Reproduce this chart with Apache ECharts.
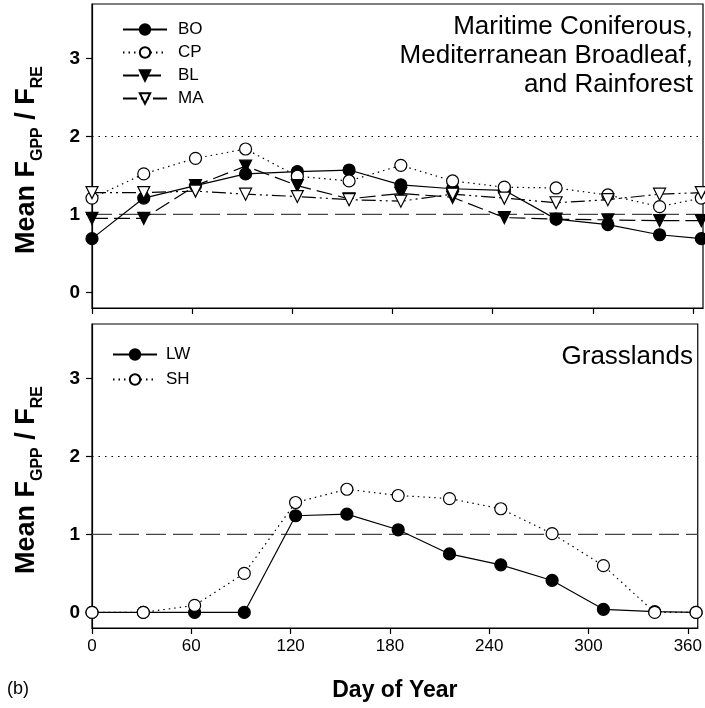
<!DOCTYPE html>
<html>
<head>
<meta charset="utf-8">
<script src="https://cdn.jsdelivr.net/npm/echarts@6/dist/echarts.min.js"></script>
<style>html,body{margin:0;padding:0;background:#fff;}#c{width:705px;height:708px;}</style>
</head>
<body>
<div id="c"></div>
<script>
// ---- data ----
const days = [0, 31, 62, 92, 123, 154, 185, 216, 247, 278, 309, 340, 365];
const BO = [0.69, 1.21, 1.37, 1.52, 1.55, 1.57, 1.38, 1.33, 1.31, 0.94, 0.87, 0.74, 0.69];
const CP = [1.21, 1.52, 1.72, 1.84, 1.49, 1.43, 1.63, 1.43, 1.35, 1.34, 1.25, 1.10, 1.21];
const BL = [0.95, 0.95, 1.37, 1.62, 1.37, 1.20, 1.27, 1.22, 0.96, 0.94, 0.93, 0.92, 0.92];
const MA = [1.28, 1.28, 1.30, 1.26, 1.23, 1.19, 1.17, 1.26, 1.21, 1.15, 1.19, 1.26, 1.28];
const LW = [0, 0, 0, 0, 1.24, 1.26, 1.06, 0.75, 0.61, 0.41, 0.04, 0.01, 0];
const SH = [0, 0, 0.09, 0.50, 1.41, 1.58, 1.50, 1.46, 1.33, 1.01, 0.60, 0, 0];
const xTicks = [0, 60, 120, 180, 240, 300, 360];
const yTicks = [0, 1, 2, 3];
const refLines = [1, 2];
const topTitleLines = ['Maritime Coniferous,', 'Mediterranean Broadleaf,', 'and Rainforest'];
const bottomTitle = 'Grasslands';

const FONT = 'Liberation Sans, Arial, Helvetica, sans-serif';
const pair = arr => days.map((d, i) => [d, arr[i]]);
const triDown = 'path://M0,0 L12,0 L6,11 Z';

const chart = echarts.init(document.getElementById('c'), null, {renderer: 'canvas'});

function xAxis(gi, showLabels) {
  return {
    type: 'value', gridIndex: gi, min: 0, max: 366,
    axisLine: {show: true, onZero: false, lineStyle: {color: '#000', width: 1.2}},
    axisTick: {show: true, length: 6, customValues: xTicks, lineStyle: {color: '#000', width: 1.2}},
    axisLabel: {show: showLabels, customValues: xTicks, color: '#000', fontSize: 17, fontFamily: FONT, margin: 10},
    splitLine: {show: false},
    name: showLabels ? 'Day of Year' : '',
    nameLocation: 'middle', nameGap: 51,
    nameTextStyle: {color: '#000', fontSize: 23, fontWeight: 'bold', fontFamily: FONT}
  };
}
function yAxis(gi) {
  return {
    type: 'value', gridIndex: gi, min: -0.2, max: 3.7,
    axisLine: {show: true, onZero: false, lineStyle: {color: '#000', width: 1.2}},
    axisTick: {show: true, length: 6, customValues: yTicks, lineStyle: {color: '#000', width: 1.2}},
    axisLabel: {customValues: yTicks, color: '#000', fontSize: 19, fontWeight: 'bold', fontFamily: FONT, margin: 12},
    splitLine: {show: false},
    name: '{a|Mean F}{b|GPP}{a| / F}{b|RE}',
    nameLocation: 'middle', nameGap: 52, nameRotate: 90,
    nameTextStyle: {
      color: '#000', fontFamily: FONT, padding: [0, 8, 0, 0],
      rich: {
        a: {fontSize: 27, fontWeight: 'bold', fontFamily: FONT, color: '#000', lineHeight: 32, verticalAlign: 'bottom'},
        b: {fontSize: 16, fontWeight: 'bold', fontFamily: FONT, color: '#000', lineHeight: 32, verticalAlign: 'bottom', padding: [0, 0, -6, 0]}
      }
    }
  };
}

function refSeries(gi, y, type, color) {
  return {
    type: 'line', xAxisIndex: gi, yAxisIndex: gi, silent: true, symbol: 'none',
    data: [[0, y], [366, y]],
    lineStyle: {color: color, width: 1.2, type: type}, z: 1
  };
}
function dataSeries(name, gi, arr, symbol, filled, dash, size) {
  return {
    name: name, type: 'line', xAxisIndex: gi, yAxisIndex: gi,
    data: pair(arr), symbol: symbol, symbolSize: size, showSymbol: true,
    lineStyle: {color: '#000', width: 1.2, type: dash},
    itemStyle: {color: filled ? '#000' : '#fff', borderColor: '#000', borderWidth: 1.2},
    emphasis: {disabled: true}, z: 3
  };
}

const titleStyle = {fontSize: 26, fontWeight: 'normal', fill: '#000', fontFamily: FONT};
const titleGraphics = topTitleLines.map((t, i) => ({
  type: 'text', right: 12, top: 14 + i * 29, style: Object.assign({text: t}, titleStyle)
}));

const option = {
  animation: false,
  backgroundColor: '#fff',
  textStyle: {fontFamily: FONT},
  grid: [
    {left: 92, right: 2, top: 4, height: 304, show: true, borderColor: '#000', borderWidth: 1.2, backgroundColor: 'transparent'},
    {left: 92, right: 2, top: 324, height: 304, show: true, borderColor: '#000', borderWidth: 1.2, backgroundColor: 'transparent'}
  ],
  xAxis: [xAxis(0, false), xAxis(1, true)],
  yAxis: [yAxis(0), yAxis(1)],
  graphic: titleGraphics.concat([
    {type: 'text', right: 12, top: 344, style: Object.assign({text: bottomTitle}, titleStyle)},
    {type: 'text', left: 7, top: 680, style: {text: '(b)', fontSize: 18, fill: '#000', fontFamily: FONT}}
  ]),
  legend: [
    {data: ['BO', 'CP', 'BL', 'MA'], orient: 'vertical', left: 122, top: 21, padding: 0,
     itemWidth: 44, itemHeight: 13, itemGap: 6, selectedMode: false,
     textStyle: {fontSize: 17, color: '#000', fontFamily: FONT, padding: [0, 0, 0, 6]}},
    {data: ['LW', 'SH'], orient: 'vertical', left: 112, top: 346, padding: 0,
     itemWidth: 44, itemHeight: 13, itemGap: 8, selectedMode: false,
     textStyle: {fontSize: 17, color: '#000', fontFamily: FONT, padding: [0, 0, 0, 4]}}
  ],
  series: [
    refSeries(0, refLines[0], [20, 7], '#444'),
    refSeries(0, refLines[1], [1.5, 5], '#000'),
    refSeries(1, refLines[0], [20, 7], '#444'),
    refSeries(1, refLines[1], [1.5, 5], '#000'),
    dataSeries('BO', 0, BO, 'circle', true, 'solid', 12),
    dataSeries('CP', 0, CP, 'circle', false, [1.5, 4], 12),
    dataSeries('BL', 0, BL, triDown, true, [16, 6], 12),
    dataSeries('MA', 0, MA, triDown, false, [14, 4, 2, 4, 2, 4], 12),
    dataSeries('LW', 1, LW, 'circle', true, 'solid', 12),
    dataSeries('SH', 1, SH, 'circle', false, [1.5, 4], 12)
  ]
};
chart.setOption(option);
</script>
</body>
</html>
